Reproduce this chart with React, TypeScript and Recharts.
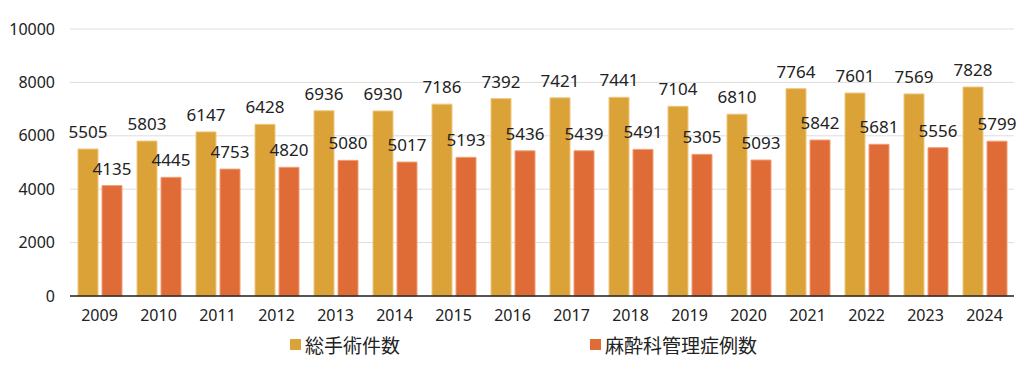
import React from "react";
import { BarChart, Bar, XAxis, YAxis, CartesianGrid, Legend, LabelList } from "recharts";

const years = ["2009","2010","2011","2012","2013","2014","2015","2016","2017","2018","2019","2020","2021","2022","2023","2024"];
const totalSurgeries = [5505,5803,6147,6428,6936,6930,7186,7392,7421,7441,7104,6810,7764,7601,7569,7828];
const anesthesiaCases = [4135,4445,4753,4820,5080,5017,5193,5436,5439,5491,5305,5093,5842,5681,5556,5799];
const yTicks = [0, 2000, 4000, 6000, 8000, 10000];
const seriesNames = ["総手術件数", "麻酔科管理症例数"];

const data = years.map((y, i) => ({ year: y, total: totalSurgeries[i], anes: anesthesiaCases[i] }));

const FONT = "'Noto Sans', 'Noto Sans CJK JP', sans-serif";
const CJK = "'Noto Sans CJK JP', 'Noto Sans', sans-serif";
const GOLD = "#DBA337";
const RED = "#DF6B37";

const renderLegend = () => (
  <div style={{ position: "relative", height: 24, fontFamily: CJK, fontSize: 19, color: "#222" }}>
    {[{ name: seriesNames[0], color: GOLD, left: 282 }, { name: seriesNames[1], color: RED, left: 582 }].map((it) => (
      <div key={it.name} style={{ position: "absolute", left: it.left, top: 0, display: "flex", alignItems: "center", height: 24 }}>
        <span style={{ display: "inline-block", width: 11, height: 11, background: it.color, marginRight: 4 }} />
        <span>{it.name}</span>
      </div>
    ))}
  </div>
);

export default function App() {
  return (
    <div style={{ fontFamily: FONT }}>
      <BarChart
        width={1008}
        height={369}
        data={data}
        margin={{ top: 21, right: 2, bottom: 21, left: 0 }}
        barSize={20}
        barGap={4}
      >
        <CartesianGrid vertical={false} stroke="#dddddd" />
        <XAxis
          dataKey="year"
          tickLine={false}
          axisLine={{ stroke: "#222", strokeWidth: 1.5 }}
          tick={{ fill: "#222", fontSize: 16, fontFamily: FONT }}
          tickMargin={8}
          height={36}
        />
        <YAxis
          domain={[0, 10000]}
          ticks={yTicks}
          axisLine={false}
          tickLine={false}
          width={62}
          tick={{ fill: "#222", fontSize: 16, fontFamily: FONT }}
          tickMargin={9}
        />
        <Legend verticalAlign="bottom" content={renderLegend} wrapperStyle={{ bottom: 21 }} />
        <Bar dataKey="total" name={seriesNames[0]} fill={GOLD} stroke="#EDC67E" strokeWidth={1} isAnimationActive={false}>
          <LabelList dataKey="total" position="top" offset={11} style={{ fill: "#222", fontSize: 17, fontFamily: FONT }} />
        </Bar>
        <Bar dataKey="anes" name={seriesNames[1]} fill={RED} stroke="#F29E78" strokeWidth={1} isAnimationActive={false}>
          <LabelList dataKey="anes" position="top" offset={11} style={{ fill: "#222", fontSize: 17, fontFamily: FONT }} />
        </Bar>
      </BarChart>
    </div>
  );
}
